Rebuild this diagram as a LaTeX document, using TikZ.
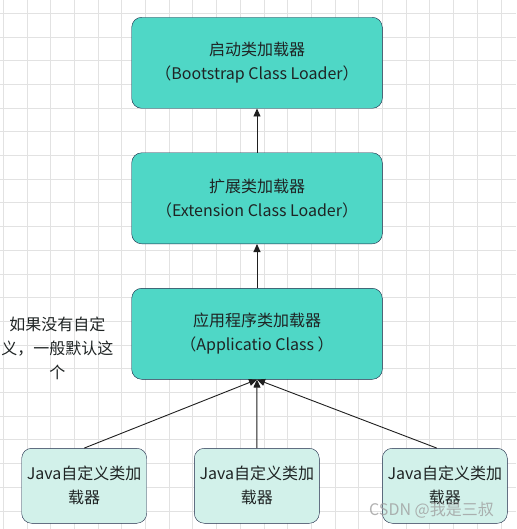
\documentclass[tikz,border=0pt]{standalone}
\usepackage{fontspec}
\setmainfont{Noto Sans CJK SC}
\usetikzlibrary{arrows.meta}
\definecolor{boxteal}{HTML}{4FD7C6}
\definecolor{boxmint}{HTML}{D2F1EA}
\definecolor{boxline}{HTML}{1B2745}
\definecolor{gridgray}{HTML}{E2E2E2}
\definecolor{inktext}{HTML}{1F2424}

\begin{document}
\begin{tikzpicture}[x=1pt,y=-1pt,
    loader/.style={draw=boxline, fill=boxteal, rounded corners=10pt,
      minimum width=250.6pt, minimum height=91pt, inner sep=0pt,
      align=center, text=inktext, font=\fontsize{16}{24}\selectfont},
    custom/.style={loader, fill=boxmint, minimum width=125pt, minimum height=75pt},
    parent/.style={draw=black!88, line width=0.9pt, -{Triangle[length=8pt,width=7pt]}}]
    \useasboundingbox (0,0) rectangle (516,529);
    % background grid
    \fill[white] (0,0) rectangle (516,529);
    \foreach \gx in {3.3,27,...,516} \draw[gridgray, line width=0.9pt] (\gx,0) -- (\gx,529);
    \foreach \gy in {13.3,37,...,529} \draw[gridgray, line width=0.9pt] (0,\gy) -- (516,\gy);
    % the three built-in loaders
    \node[loader] (boot) at (257, 62.8) {启动类加载器\\（Bootstrap Class Loader）};
    \node[loader] (ext) at (257, 198.3) {扩展类加载器\\（Extension Class Loader）};
    \node[loader] (app) at (257, 333.8) {应用程序类加载器\\（Applicatio Class ）};
    % user defined loaders
    \node[custom] (jl) at (84.2, 485.8) {Java自定义类加\\载器};
    \node[custom] (jm) at (256.8, 485.8) {Java自定义类加\\载器};
    \node[custom] (jr) at (444.8, 485.8) {Java自定义类加\\载器};
    \coordinate (jrtop) at ([xshift=-8pt]jr.north);
    % delegation
    \draw[parent] (ext) -- (boot);
    \draw[parent] (app) -- (ext);
    \draw[parent] (jl.north) -- (app.south);
    \draw[parent] (jm) -- (app);
    \draw[parent] (jrtop) -- (app.south);
    % note
    \node[align=center, text=inktext, font=\fontsize{16}{24}\selectfont] (note) at (57.3, 348)
      {如果没有自定\\义，一般默认这\\个};
    % watermark
    \node[text=gray!75, opacity=0.8, font=\fontsize{16}{20}\selectfont] (mark) at (431.5, 510) {CSDN @我是三叔};
\end{tikzpicture}
\end{document}
